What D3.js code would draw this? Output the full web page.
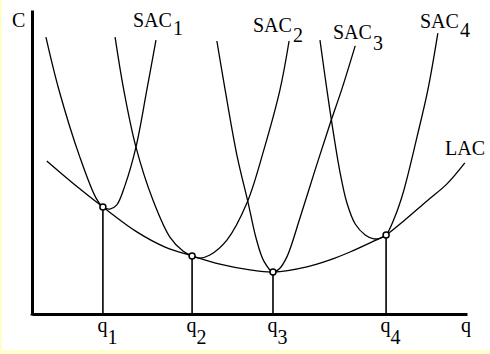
<!DOCTYPE html>
<html><head><meta charset="utf-8">
<script src="https://cdn.jsdelivr.net/npm/d3@7"></script>
<style>html,body{margin:0;padding:0;background:#fff;}svg{display:block;}
text{font-family:"Liberation Serif","DejaVu Serif",serif;}</style>
</head><body><svg id="chart" width="490" height="354"></svg>
<script>
// ---- data (chart units: quantity 0..100, cost 0..100) ----
const lacQ = [3.4, 9.9, 16.3, 24.1, 30.6, 36.8, 43.2, 50.1, 55.4, 63.2, 68.5, 73.1, 77.7, 81.4, 85.7, 90.8, 95.4, 99.5];
const lacC = [50.3, 42.4, 35.2, 27.0, 22.0, 19.1, 16.4, 14.5, 13.8, 15.5, 17.8, 20.4, 23.4, 26.0, 30.9, 37.2, 42.8, 49.7];

const sac1Q = [3.2, 6.2, 11.0, 14.7, 16.3, 17.9, 19.5, 21.4, 23.9, 26.4, 28.5];
const sac1C = [91.1, 73.7, 51.6, 38.2, 35.2, 34.5, 35.9, 42.4, 54.9, 73.7, 90.1];

const sac2Q = [19.1, 21.1, 23.9, 27.8, 31.7, 34.7, 36.8, 38.6, 40.9, 44.8, 49.4, 53.3, 57.0, 59.1];
const sac2C = [91.1, 73.7, 54.9, 37.5, 25.3, 20.7, 19.1, 18.4, 19.4, 24.3, 36.5, 54.0, 73.7, 89.8];

const sac3Q = [42.5, 44.4, 47.1, 49.7, 51.5, 53.3, 55.4, 56.8, 58.6, 61.6, 65.3, 68.5, 71.3, 74.3];
const sac3C = [89.8, 73.7, 52.3, 36.5, 25.0, 17.4, 13.8, 14.8, 18.8, 31.6, 48.4, 62.5, 74.3, 88.2];

const sac4Q = [66.2, 67.8, 69.0, 70.8, 72.4, 74.3, 76.6, 78.6, 80.2, 81.4, 83.4, 85.3, 88.5, 91.0, 93.3];
const sac4C = [90.1, 73.7, 62.2, 46.7, 36.5, 29.6, 26.0, 24.7, 25.0, 26.0, 31.9, 39.8, 58.2, 73.7, 92.4];

const tangentQ = [16.3, 36.8, 55.4, 81.4];
const tangentC = [35.2, 19.1, 13.8, 26.0];

const sacNames = ["SAC", "SAC", "SAC", "SAC"];
const subscripts = ["1", "2", "3", "4"];
const qTickBase = "q";
const xAxisLabel = "q";
const yAxisLabel = "C";
const envelopeLabel = "LAC";

// ---- layout ----
const W = 490, H = 354;
const svg = d3.select("#chart");
const x = d3.scaleLinear().domain([0, 100]).range([32, 467]);
const y = d3.scaleLinear().domain([0, 100]).range([314, 10]);
const FS = 20;

// background with pale yellow edges
svg.append("rect").attr("x", 0).attr("y", 0).attr("width", W).attr("height", H).attr("fill", "#ffffcc");
svg.append("rect").attr("x", 2).attr("y", 0).attr("width", W - 2).attr("height", 350).attr("fill", "#ffffff");

const zip = (a, b) => a.map((v, i) => [v, b[i]]);
const line = d3.line().x(d => x(d[0])).y(d => y(d[1])).curve(d3.curveCatmullRom.alpha(0.5));

const curves = [zip(lacQ, lacC), zip(sac1Q, sac1C), zip(sac2Q, sac2C), zip(sac3Q, sac3C), zip(sac4Q, sac4C)];
svg.append("g").selectAll("path").data(curves).join("path")
  .attr("d", line).attr("fill", "none").attr("stroke", "#000").attr("stroke-width", 1.3);

// drop lines
const tp = zip(tangentQ, tangentC);
svg.append("g").selectAll("line").data(tp).join("line")
  .attr("x1", d => x(d[0])).attr("x2", d => x(d[0]))
  .attr("y1", d => y(d[1])).attr("y2", y(0))
  .attr("stroke", "#000").attr("stroke-width", 1.6);

// axes
const gx = svg.append("g").attr("transform", `translate(0,${y(0)})`)
  .call(d3.axisBottom(x).tickValues([]).tickSizeOuter(0));
gx.select(".domain").attr("stroke", "#000").attr("stroke-width", 3);
const gy = svg.append("g").attr("transform", `translate(${x(0)},0)`)
  .call(d3.axisLeft(y).tickValues([]).tickSizeOuter(0));
gy.select(".domain").attr("stroke", "#000").attr("stroke-width", 3);
svg.append("line").attr("x1", x(0)).attr("x2", x(0)).attr("y1", y(0)).attr("y2", y(0) + 1.5)
  .attr("stroke", "#000").attr("stroke-width", 3);

// tangent markers
svg.append("g").selectAll("circle").data(tp).join("circle")
  .attr("cx", d => x(d[0])).attr("cy", d => y(d[1])).attr("r", 3)
  .attr("fill", "#fff").attr("stroke", "#000").attr("stroke-width", 1.5);

// text helpers
function sub(px, py, base, s, subDy, subDx) {
  const t = svg.append("text").attr("x", px).attr("y", py)
    .attr("font-size", FS).attr("fill", "#000");
  t.append("tspan").text(base);
  if (s) t.append("tspan").attr("dx", subDx || 0).attr("dy", subDy).text(s);
  return t;
}

// q tick labels
tangentQ.forEach((q, i) => sub(x(q) - 5.5, 332, qTickBase, subscripts[i], 12, 0));
// axis labels
sub(x(100) - 6, 332, xAxisLabel);
sub(12, 27, yAxisLabel);
// SAC labels
const sacLabelPos = [[133, 27, 8], [253, 32, 10], [333, 39, 11], [420, 28, 9]];
sacLabelPos.forEach((p, i) => sub(p[0], p[1], sacNames[i], subscripts[i], p[2], 1));
sub(445, 155, envelopeLabel);
</script></body></html>
